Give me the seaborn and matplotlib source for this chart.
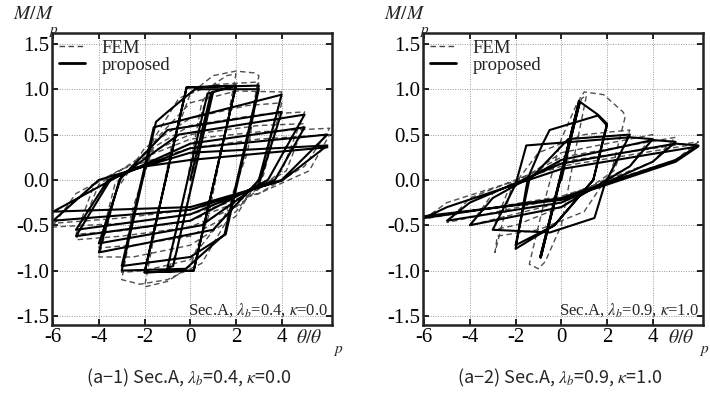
import matplotlib
matplotlib.use("Agg")
import matplotlib.pyplot as plt
import seaborn as sns
import pandas as pd
from matplotlib.lines import Line2D

# ---------------- data ----------------
# Panel (a-1): Sec.A, lambda_b=0.4, kappa=0.0  -- "proposed" model (solid)
left_prop_theta = [0.0, 0.9, 1.0, -0.75, -1.0, 0.75, 2.0, 0.15, -2.0, -0.16, 2.0, 0.15, -2.0,
                   -0.16, 3.0, 1.5, -0.2, -3.0, -1.5, -1.09, 0.2, 3.0, 1.55, 0.0, -3.0, -1.6,
                   4.0, 3.0, 1.0, -4.0, -3.1, -1.0, 4.0, 3.0, 0.5, -4.0, -3.0, -0.5, 5.0,
                   3.4, 0.0, -5.0, -3.5, 0.0, 5.0, 3.7, 0.0, -5.0, -3.6, 0.0, 6.0, 4.0, 0.0,
                   -6.0, -4.0, 0.0, 6.0, 4.0, 0.0, -6.0, -2.5, 0.0, 6.0]
left_prop_M = [0.0, 0.95, 0.97, -0.95, -0.97, 0.95, 1.04, -1.0, -1.02, 1.02, 1.04, -1.0, -1.02,
               1.02, 1.04, -0.6, -0.98, -1.0, 0.64, 0.73, 1.0, 1.0, -0.6, -0.85, -0.95, 0.58,
               0.94, 0.0, -0.55, -0.8, 0.0, 0.55, 0.75, -0.05, -0.5, -0.7, 0.05, 0.5, 0.72,
               0.0, -0.45, -0.62, 0.0, 0.4, 0.58, 0.0, -0.38, -0.55, 0.0, 0.35, 0.5, 0.0, -0.33,
               -0.45, 0.0, 0.3, 0.38, -0.01, -0.3, -0.35, 0.13, 0.22, 0.36]

# Panel (a-1): FEM (dashed)
left_fem_theta = [0.0, 0.5, 0.8, 1.0, 0.2, -0.6, -1.0, -0.2, 0.5, 1.0, 1.6, 2.0, 1.5, 0.8,
                  0.0, -1.0, -2.0, -1.5, -0.8, 0.0, 1.0, 2.0, 2.8, 3.0, 2.4, 1.6, 0.5, -1.0,
                  -2.2, -3.0, -2.4, -1.6, -0.5, 1.0, 3.0, 2.5, 1.5, 0.0, -2.0, -3.0, -2.5,
                  -1.5, 0.0, 2.0, 4.0, 3.2, 2.0, 0.0, -2.5, -4.0, -3.2, -2.0, 0.0, 2.5, 4.0,
                  3.2, 2.0, 0.0, -2.5, -4.0, -3.3, -2.0, 0.0, 3.0, 5.0, 4.0, 2.0, 0.0, -3.0,
                  -5.0, -4.0, -2.0, 0.0, 3.0, 5.0, 4.2, 2.0, 0.0, -3.0, -5.0, -4.2, -2.0, 0.0,
                  3.0, 6.1, 5.0, 3.0, 0.0, -3.0, -6.05, -5.0, -3.0, 0.0, 3.0, 6.1, 5.2, 3.0,
                  0.0, -3.0, -6.05]
left_fem_M = [0.0, 0.75, 0.93, 0.98, 0.15, -0.8, -1.0, -0.1, 0.85, 1.05, 1.15, 1.17, 0.5, -0.4,
              -0.95, -1.12, -1.18, -0.5, 0.4, 0.95, 1.15, 1.2, 1.18, 1.15, 0.3, -0.45, -0.92,
              -1.1, -1.15, -1.1, -0.3, 0.45, 0.9, 1.05, 1.08, 0.3, -0.4, -0.88, -1.0, -1.02,
              -0.3, 0.45, 0.85, 0.98, 0.97, 0.1, -0.4, -0.72, -0.85, -0.85, -0.1, 0.35, 0.68,
              0.82, 0.85, 0.05, -0.35, -0.62, -0.72, -0.75, -0.05, 0.3, 0.6, 0.72, 0.75, 0.1,
              -0.3, -0.52, -0.62, -0.66, -0.05, 0.28, 0.5, 0.6, 0.62, 0.1, -0.25, -0.45,
              -0.56, -0.6, -0.05, 0.25, 0.45, 0.53, 0.57, 0.15, -0.15, -0.38, -0.48, -0.52,
              -0.15, 0.12, 0.35, 0.45, 0.5, 0.1, -0.15, -0.33, -0.42, -0.48]

# Panel (a-2): Sec.A, lambda_b=0.9, kappa=1.0  -- "proposed" model (solid)
right_prop_theta = [0.0, 0.8, -0.9, 0.78, -0.92, 0.82, 1.6, 2.0, 1.4, -0.3, -2.0, -1.46,
                    -0.81, -0.51, 1.6, 2.0, 1.4, -0.3, -2.0, -1.4, 0.3, 3.0, 1.9, 1.45,
                    -0.5, -3.0, -2.0, -1.53, 3.0, 4.0, 3.0, 0.0, -4.0, -3.0, 0.0, 4.0,
                    5.0, 4.0, 0.0, -5.0, -4.0, 0.0, 5.0, 6.0, 5.0, 0.0, -6.0, -5.0, 0.0,
                    6.0, 5.0, 0.0, -6.0]
right_prop_M = [0.0, 0.86, -0.86, 0.87, -0.85, 0.86, 0.72, 0.62, 0.0, -0.5, -0.76, 0.02,
                0.4, 0.55, 0.71, 0.6, 0.0, -0.5, -0.72, 0.0, 0.45, 0.5, -0.05, -0.42,
                -0.58, -0.55, -0.05, 0.38, 0.47, 0.45, 0.15, -0.3, -0.5, -0.2, 0.22, 0.44,
                0.42, 0.2, -0.25, -0.45, -0.25, 0.18, 0.4, 0.38, 0.22, -0.2, -0.42, -0.3, 0.12,
                0.37, 0.2, -0.22, -0.4]

# Panel (a-2): FEM (dashed)
right_fem_theta = [0.0, 0.5, 0.9, 1.1, 0.6, 0.0, -0.7, -1.0, -1.4, -0.8, 0.0, 0.7, 1.0,
                   1.85, 2.7, 2.8, 2.2, 1.0, -1.0, -2.8, -2.9, -2.2, -1.0, 1.0, 3.0, 2.3,
                   0.0, -2.0, -3.0, -2.3, 0.0, 4.0, 3.0, 0.0, -4.0, -3.0, 0.0, 5.0, 4.0,
                   0.0, -5.0, -4.0, 0.0, 6.0, 5.0, 0.0, -6.0, -5.0, 0.0, 6.0]
right_fem_M = [0.0, 0.6, 0.9, 0.93, 0.3, -0.5, -0.9, -0.98, -0.93, -0.3, 0.45, 0.85, 0.97,
               0.94, 0.75, 0.7, 0.1, -0.35, -0.55, -0.62, -0.8, -0.1, 0.3, 0.5, 0.55, 0.1,
               -0.3, -0.5, -0.55, -0.1, 0.3, 0.5, 0.15, -0.25, -0.5, -0.15, 0.25, 0.47, 0.2,
               -0.2, -0.47, -0.2, 0.2, 0.42, 0.22, -0.18, -0.43, -0.25, 0.15, 0.4]

x_ticks = [-6, -4, -2, 0, 2, 4]
y_ticks = [-1.5, -1.0, -0.5, 0.0, 0.5, 1.0, 1.5]
y_ticklabels = ["-1.5", "-1.0", "-0.5", "0.0", "0.5", "1.0", "1.5"]
annotations = [r"Sec.A, $\lambda_b$=0.4, $\kappa$=0.0", r"Sec.A, $\lambda_b$=0.9, $\kappa$=1.0"]
captions = [r"(a−1) Sec.A, $\lambda_b$=0.4, $\kappa$=0.0", r"(a−2) Sec.A, $\lambda_b$=0.9, $\kappa$=1.0"]

# ---------------- figure ----------------
sns.set_theme(style="white")
serif = ["Liberation Serif", "DejaVu Serif"]
plt.rcParams["font.family"] = serif
plt.rcParams["font.serif"] = serif
plt.rcParams["mathtext.fontset"] = "stix"

fig = plt.figure(figsize=(7.10, 4.09), dpi=100)
axes = [fig.add_axes([52 / 710, 84 / 409, 280 / 710, 292 / 409]),
        fig.add_axes([423 / 710, 84 / 409, 280 / 710, 292 / 409])]

panels = [(left_prop_theta, left_prop_M, left_fem_theta, left_fem_M),
          (right_prop_theta, right_prop_M, right_fem_theta, right_fem_M)]

dash = (0, (4, 2.5))
for i, (ax, (pt, pm, ft, fm)) in enumerate(zip(axes, panels)):
    dfp = pd.DataFrame({"theta": pt, "M": pm})
    dff = pd.DataFrame({"theta": ft, "M": fm})
    sns.lineplot(data=dff, x="theta", y="M", sort=False, estimator=None, ax=ax,
                 color="#505050", lw=1.0, linestyle=dash)
    sns.lineplot(data=dfp, x="theta", y="M", sort=False, estimator=None, ax=ax,
                 color="black", lw=1.5)
    ax.set_xlim(-6.05, 6.2)
    ax.set_ylim(-1.6, 1.62)
    ax.set_xticks(x_ticks)
    ax.set_xticklabels([str(t) for t in x_ticks])
    ax.set_yticks(y_ticks)
    ax.set_yticklabels(y_ticklabels)
    ax.set_xlabel("")
    ax.set_ylabel("")
    ax.grid(True, color="#999999", linestyle=(0, (1, 1.5)), lw=0.7)
    ax.tick_params(direction="in", length=4, width=1.2, pad=2, labelsize=15,
                   labelfontfamily="Liberation Serif",
                   top=True, right=True, bottom=True, left=True, colors="black")
    for s in ax.spines.values():
        s.set_linewidth(1.8)
        s.set_color("#222222")
    ax.text(0.985, 0.02, annotations[i], transform=ax.transAxes, ha="right", va="bottom",
            fontsize=12)
    handles = [Line2D([], [], color="#444444", lw=1.0, linestyle=(0, (4, 2.5))),
               Line2D([], [], color="black", lw=2.0)]
    ax.legend(handles, ["FEM", "proposed"], loc="upper left", frameon=False, fontsize=13.5,
              handlelength=1.4, handletextpad=0.9, labelspacing=0.0,
              borderaxespad=0.15, borderpad=0.2)
    x0 = ax.get_position().x0
    x1 = ax.get_position().x1
    fig.text(x0 - 0.055, 0.985, r"$M/M$", fontsize=14, ha="left", va="top")
    fig.text(x0 - 0.005, 0.94, r"$p$", fontsize=11, ha="left", va="top")
    fig.text(x1 - 0.05, 0.196, r"$\theta/\theta$", fontsize=14, ha="left", va="top")
    fig.text(min(x1 + 0.002, 0.985), 0.158, r"$p$", fontsize=11, ha="left", va="top")
    fig.text((x0 + x1) / 2 - 0.005, 0.05, captions[i], fontsize=13, ha="center",
             va="bottom", family=["Noto Sans CJK JP", "DejaVu Sans"])

fig.savefig("out.png", dpi=100)
